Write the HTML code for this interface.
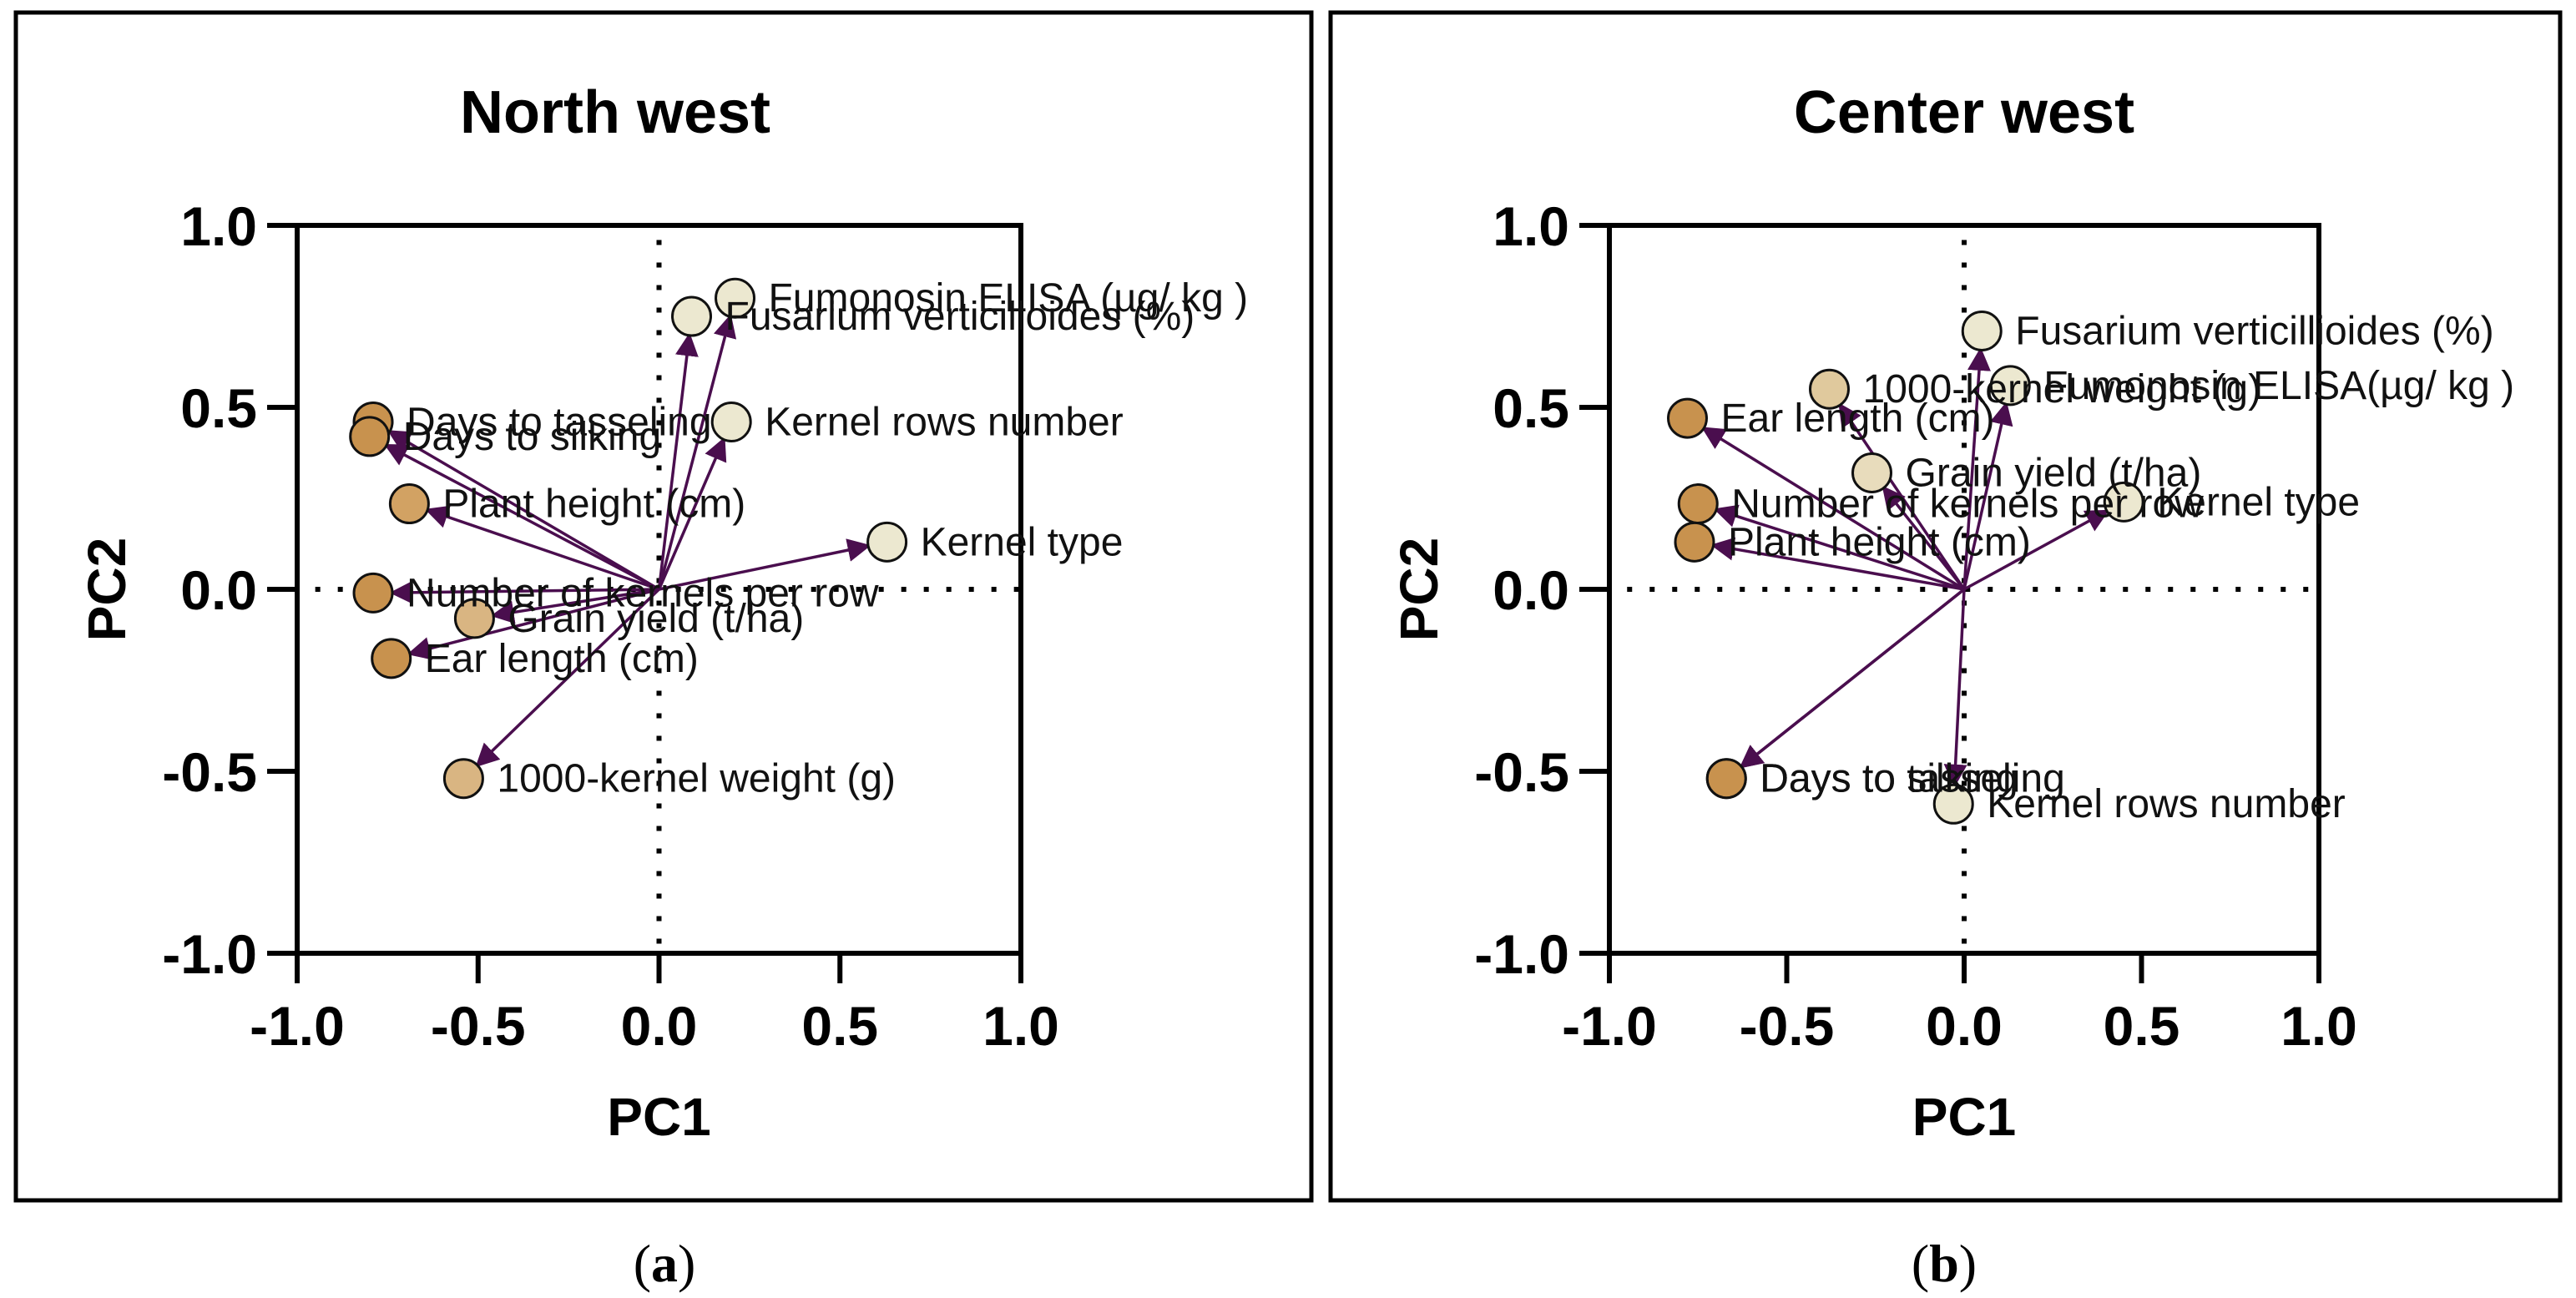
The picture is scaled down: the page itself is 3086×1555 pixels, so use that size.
<!DOCTYPE html>
<html><head><meta charset="utf-8"><style>
html,body{margin:0;padding:0;background:#fff;}
svg{display:block;}
</style></head><body>
<svg id="fig" width="3086" height="1555" viewBox="0 0 3086 1555" xmlns="http://www.w3.org/2000/svg" font-family="Liberation Sans, Arial, sans-serif">
<defs>
<marker id="ah" markerWidth="8" markerHeight="8" refX="7" refY="4" orient="auto" markerUnits="strokeWidth">
<path d="M0,0 L8,4 L0,8 z" fill="#4a0e4e"/>
</marker>
</defs>
<g id="panels"></g>
</svg>
<script>
// ---- data: panel (a) North west ----
const nwLabels = ["Fumonosin ELISA (µg/ kg )","Fusarium verticilloides (%)","Kernel rows number","Kernel type","Days to tasseling","Days to silking","Plant height (cm)","Number of kernels per row","Grain yield (t/ha)","Ear length (cm)","1000-kernel weight (g)"];
const nwPC1 = [0.21,0.09,0.20,0.63,-0.79,-0.80,-0.69,-0.79,-0.51,-0.74,-0.54];
const nwPC2 = [0.80,0.75,0.46,0.13,0.46,0.42,0.235,-0.01,-0.08,-0.19,-0.52];
const nwColor = ["#ece8d0","#ece8d0","#ece8d0","#ece8d0","#c8924e","#c8924e","#d2a263","#c8924e","#d9b582","#c8924e","#d9b582"];
// ---- data: panel (b) Center west ----
const cwLabels = ["Fusarium verticillioides (%)","Fumonosin ELISA(µg/ kg )","1000-kernel weight (g)","Ear length (cm)","Grain yield (t/ha)","Kernel type","Number of kernels per row","Plant height (cm)","Days to tasseling","Days to silking","Kernel rows number"];
const cwPC1 = [0.05,0.13,-0.38,-0.78,-0.26,0.45,-0.75,-0.76,-0.67,-0.67,-0.03];
const cwPC2 = [0.71,0.56,0.55,0.47,0.32,0.24,0.235,0.13,-0.52,-0.52,-0.59];
const cwColor = ["#ece8d0","#ece8d0","#e0c99d","#c8924e","#e8dcbc","#ece8d0","#c8924e","#c8924e","#c8924e","#c8924e","#ece8d0"];
const tickVals = [-1.0,-0.5,0.0,0.5,1.0];
const tickText = ["-1.0","-0.5","0.0","0.5","1.0"];

const NS="http://www.w3.org/2000/svg";
const root=document.getElementById('panels');
function mk(tag,attrs,parent,txt){const e=document.createElementNS(NS,tag);for(const k in attrs)e.setAttribute(k,attrs[k]);if(txt!==undefined)e.textContent=txt;(parent||root).appendChild(e);return e;}

function panel(cfg){
  const g=mk('g',{});
  
  
  const fr=mk('rect',{x:cfg.fx0,y:15,width:cfg.fx1-cfg.fx0,height:1423,fill:'none',stroke:'#000','stroke-width':5},g);
  
  
  const X=v=>cfg.cx+v*cfg.sx, Y=v=>706-v*436;
  const t=mk('text',{x:cfg.tx,y:159,'text-anchor':'middle','font-size':72,'font-weight':'bold'},g,cfg.title);
  
  
  const zv=mk('line',{x1:X(0),y1:Y(0.96),x2:X(0),y2:Y(-1),stroke:'#000','stroke-width':6,'stroke-dasharray':'6 21'},g);
  
  
  const zh=mk('line',{x1:X(-0.95),y1:Y(0),x2:X(1),y2:Y(0),stroke:'#000','stroke-width':6,'stroke-dasharray':'6 21'},g);
  
  
  const box=mk('rect',{x:X(-1),y:Y(1),width:X(1)-X(-1),height:Y(-1)-Y(1),fill:'none',stroke:'#000','stroke-width':6},g);
  
  
  tickVals.forEach((v,i)=>{
    const tl=mk('line',{x1:X(-1)-36,y1:Y(v),x2:X(-1),y2:Y(v),stroke:'#000','stroke-width':6},g);
    
    
    const yl=mk('text',{x:X(-1)-48,y:Y(v)+24,'text-anchor':'end','font-size':66,'font-weight':'bold'},g,tickText[i]);
    
    
    const xt=mk('line',{x1:X(v),y1:Y(-1),x2:X(v),y2:Y(-1)+36,stroke:'#000','stroke-width':6},g);
    
    
    const xl=mk('text',{x:X(v),y:1252,'text-anchor':'middle','font-size':66,'font-weight':'bold'},g,tickText[i]);
    
    
  });
  const xa=mk('text',{x:X(0),y:1360,'text-anchor':'middle','font-size':64,'font-weight':'bold'},g,'PC1');
  
  
  const ya=mk('text',{x:0,y:0,'text-anchor':'middle','font-size':64,'font-weight':'bold',transform:`translate(${cfg.yax},706) rotate(-90)`},g,'PC2');
  
  
  const R=23;
  cfg.p1.forEach((v,i)=>{
    const px=X(v),py=Y(cfg.p2[i]),ox=X(0),oy=Y(0);
    const d=Math.hypot(px-ox,py-oy),k=(d-R)/d;
    const a=mk('line',{x1:ox,y1:oy,x2:ox+(px-ox)*k,y2:oy+(py-oy)*k,stroke:'#4a0e4e','stroke-width':3.5,'marker-end':'url(#ah)'},g);
    
    
  });
  cfg.p1.forEach((v,i)=>{
    const c=mk('circle',{cx:X(v),cy:Y(cfg.p2[i]),r:R,fill:cfg.col[i],stroke:'#111','stroke-width':3},g);
    
    
  });
  cfg.p1.forEach((v,i)=>{
    const l=mk('text',{x:X(v)+40,y:Y(cfg.p2[i])+16,'font-size':48,fill:'#111'},g,cfg.lab[i]);
    
    
  });
  const cap=mk('text',{x:cfg.capx,y:1535,'text-anchor':'middle','font-size':64,'font-family':'Liberation Serif, serif'},g);
  
  
  mk('tspan',{},cap,'(');
  mk('tspan',{'font-weight':'bold'},cap,cfg.letter);
  mk('tspan',{},cap,')');
}
panel({name:'panel-north-west',fx0:19,fx1:1571,cx:789.5,sx:433.5,tx:737,yax:150,title:'North west',p1:nwPC1,p2:nwPC2,col:nwColor,lab:nwLabels,capx:796,letter:'a'});
panel({name:'panel-center-west',fx0:1594,fx1:3067,cx:2353,sx:425,tx:2353,yax:1722,title:'Center west',p1:cwPC1,p2:cwPC2,col:cwColor,lab:cwLabels,capx:2329,letter:'b'});
</script>
</body></html>
